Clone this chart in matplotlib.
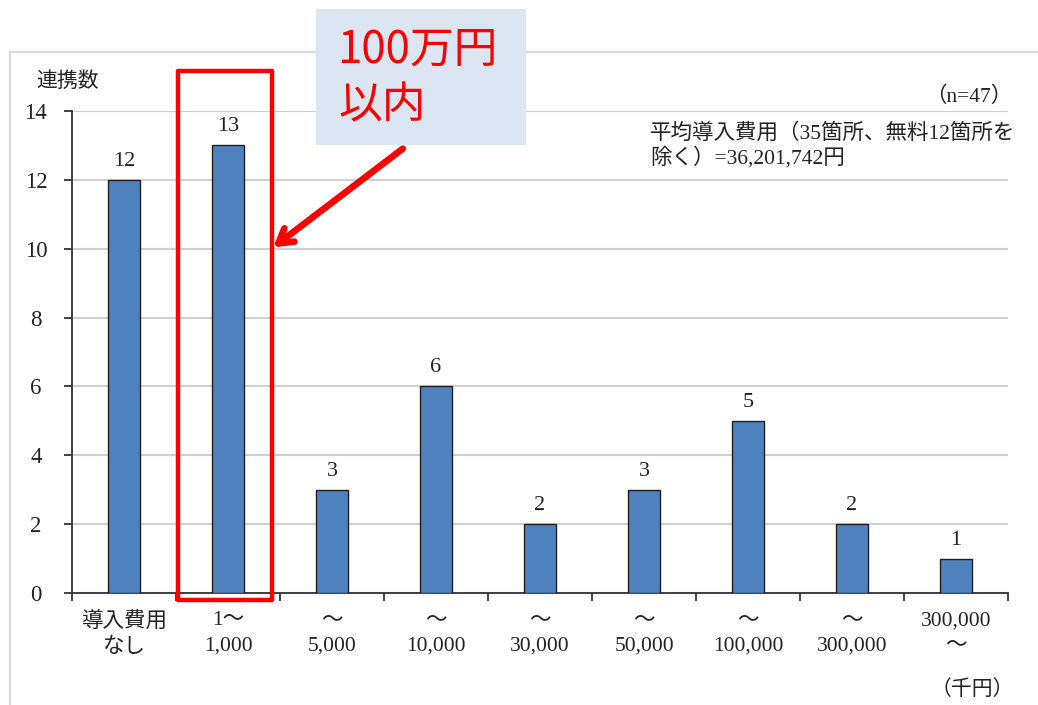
import matplotlib
matplotlib.use("Agg")
import matplotlib.pyplot as plt
from matplotlib.patches import Rectangle, FancyArrowPatch
from matplotlib.lines import Line2D
from matplotlib.ticker import FixedLocator, NullFormatter

# ---- data ----
categories = ["導入費用\nなし", "1〜\n1,000", "〜\n5,000", "〜\n10,000", "〜\n30,000",
              "〜\n50,000", "〜\n100,000", "〜\n300,000", "300,000\n〜"]
counts = [12, 13, 3, 6, 2, 3, 5, 2, 1]
y_ticks = [0, 2, 4, 6, 8, 10, 12, 14]
y_label = "連携数"
n_note = "（n=47）"
avg_note = "平均導入費用（35箇所、無料12箇所を\n除く）=36,201,742円"
unit_note = "（千円）"
callout = ["100万円", "以内"]
highlight_index = 1

W, H = 1038, 705
SERIF = ["Liberation Serif", "Noto Sans CJK JP"]
SANS = ["Noto Sans CJK JP", "DejaVu Sans"]
TXT = "#222222"

plt.rcParams["font.family"] = SERIF


def fx(x):
    return x / W


def fy(y):
    return 1 - y / H


fig = plt.figure(figsize=(W / 100, H / 100), dpi=100)
fig.patch.set_facecolor("white")

# outer chart-area frame (top and left edges)
fig.add_artist(Line2D([fx(10), fx(1038)], [fy(52), fy(52)], transform=fig.transFigure,
                      color="#D9D9D9", lw=1.6))
fig.add_artist(Line2D([fx(10), fx(10)], [fy(52), fy(705)], transform=fig.transFigure,
                      color="#D9D9D9", lw=1.6))

# plot area
ax_l, ax_r, ax_t, ax_b = 72, 1008, 111, 593
ax = fig.add_axes([fx(ax_l), fy(ax_b), fx(ax_r - ax_l), (ax_b - ax_t) / H])

x = list(range(len(counts)))
ax.bar(x, counts, width=0.31, color="#4F81BD", edgecolor="#1F1F1F", linewidth=1.0, zorder=3)
for xi, v in zip(x, counts):
    ax.annotate(str(v), (xi, v), xytext=(0, 6.5), textcoords="offset points",
                ha="center", va="bottom", fontsize=16, color=TXT, family=SERIF)

ax.set_xlim(-0.5, len(counts) - 0.5)
ax.set_ylim(0, 14)
ax.set_yticks(y_ticks)
ax.set_yticklabels([str(t) for t in y_ticks], fontsize=16.5, color=TXT)
ax.yaxis.grid(True, color="#D0D0D0", lw=1.5, zorder=0)
ax.set_axisbelow(True)

# category ticks at boundaries, labels at centers
ax.xaxis.set_major_locator(FixedLocator([i - 0.5 for i in range(len(counts) + 1)]))
ax.xaxis.set_major_formatter(NullFormatter())
ax.xaxis.set_minor_locator(FixedLocator(x))
ax.set_xticklabels(categories, minor=True, fontsize=15.5, color=TXT, linespacing=1.45)
ax.tick_params(axis="x", which="minor", length=0, pad=13)
ax.tick_params(axis="x", which="major", length=6, width=1.3, color="#333333", direction="out")
ax.tick_params(axis="y", length=6, width=1.3, color="#333333", direction="out", pad=20)
for lab in ax.get_yticklabels():
    lab.set_horizontalalignment("center")

for s in ("top", "right"):
    ax.spines[s].set_visible(False)
for s in ("left", "bottom"):
    ax.spines[s].set_color("#333333")
    ax.spines[s].set_linewidth(1.3)

# texts around the plot
fig.text(fx(36), fy(82), y_label, fontsize=15, color=TXT, va="center", ha="left")
fig.text(fx(1012), fy(97), n_note, fontsize=15.5, color=TXT, va="center", ha="right")
fig.text(fx(650), fy(146), avg_note, fontsize=15.5, color=TXT, va="center", ha="left",
         linespacing=1.15)
fig.text(fx(1014), fy(690), unit_note, fontsize=15, color=TXT, va="center", ha="right")

# highlight frame around the 1〜1,000 bar
ax.add_patch(Rectangle((highlight_index - 0.48, -0.2), 0.90, 15.35, fill=False,
                       edgecolor="#FF0000", lw=3.2, joinstyle="round",
                       clip_on=False, zorder=5))

# callout box
fig.add_artist(Rectangle((fx(316), fy(145)), fx(526 - 316), (145 - 9) / H,
                         transform=fig.transFigure, facecolor="#DCE6F2",
                         edgecolor="none", zorder=6))
fig.text(fx(337), fy(50), callout[0], fontsize=31.5, color="#FF0000", family=SANS,
         va="center", ha="left", zorder=7)
fig.text(fx(338), fy(105), callout[1], fontsize=31.5, color="#FF0000", family=SANS,
         va="center", ha="left", zorder=7)

# arrow pointing at the highlight frame
fig.add_artist(FancyArrowPatch((fx(405), fy(147)), (fx(271), fy(249)),
                               transform=fig.transFigure,
                               arrowstyle="->,head_length=10,head_width=6",
                               color="#FF0000", lw=4.8, capstyle="round",
                               joinstyle="round", zorder=8))

fig.savefig("out.png", dpi=100, facecolor="white")
